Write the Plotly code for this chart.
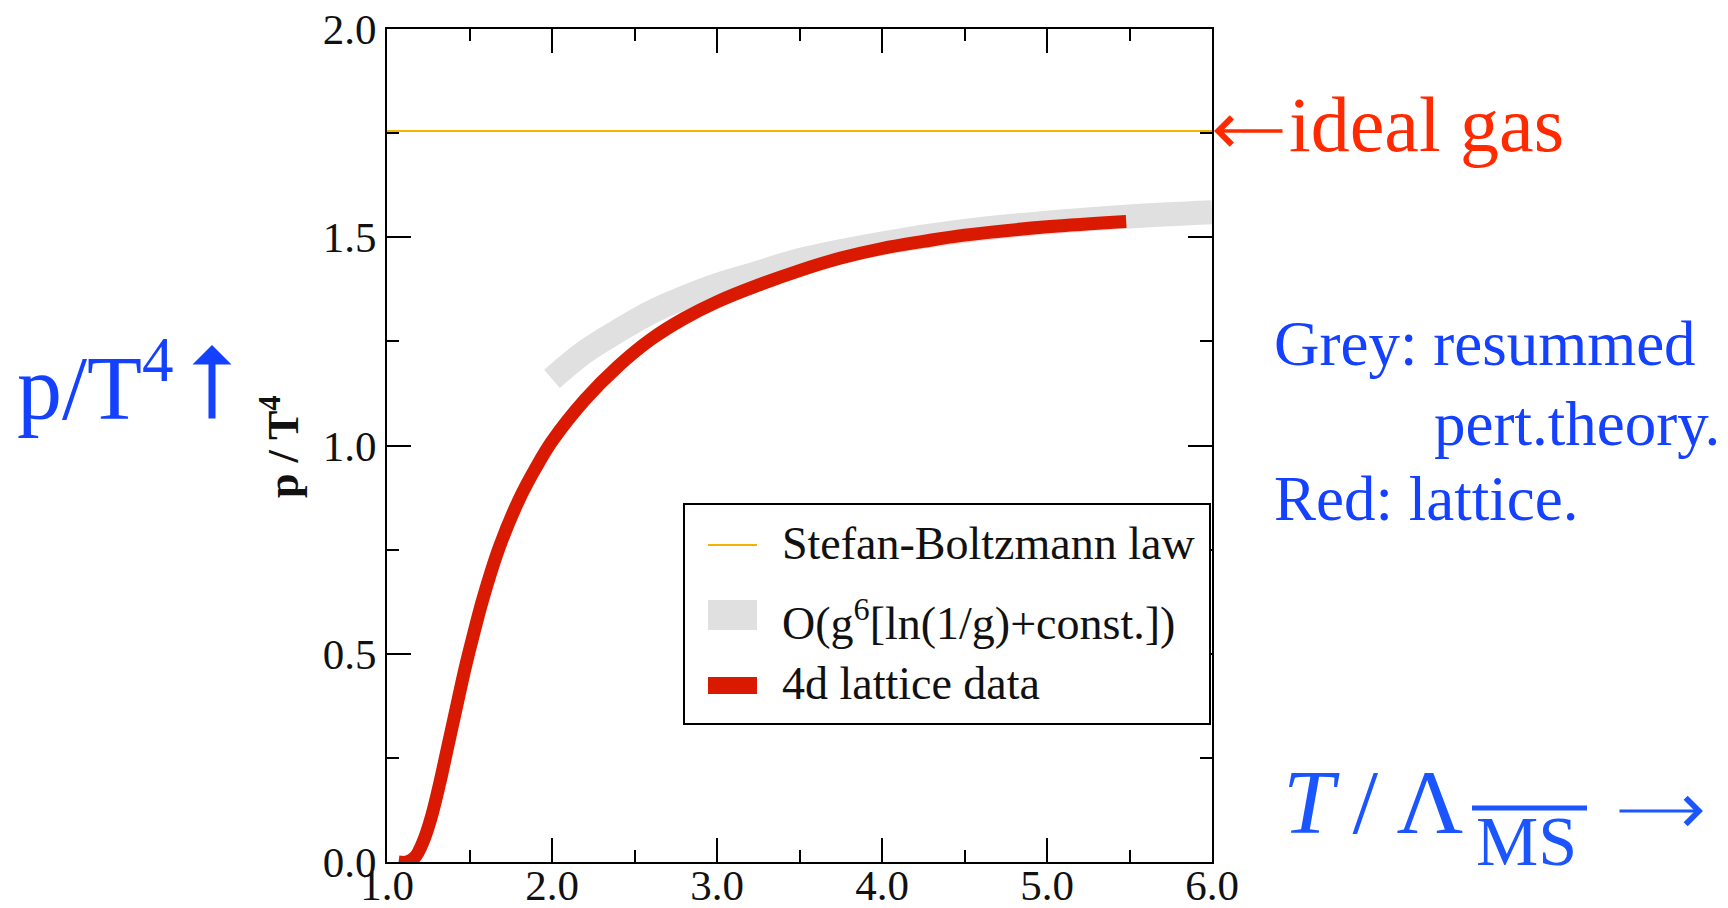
import plotly.graph_objects as go

# ---------------- data ----------------
lattice_T = [1.07, 1.12, 1.17, 1.22, 1.27, 1.32, 1.37, 1.42, 1.47, 1.52, 1.58, 1.68, 1.80, 1.90,
             2.00, 2.20, 2.40, 2.60, 2.80, 3.00, 3.25, 3.50, 3.75, 4.00, 4.25, 4.50, 5.00, 5.48]
lattice_p = [0.0, 0.0, 0.012, 0.05, 0.11, 0.19, 0.28, 0.37, 0.46, 0.54, 0.63, 0.755, 0.87, 0.945,
             1.01, 1.11, 1.19, 1.255, 1.305, 1.345, 1.385, 1.42, 1.45, 1.473, 1.49, 1.505, 1.525, 1.538]
pert_T = [2.0, 2.2, 2.4, 2.6, 2.8, 3.0, 3.25, 3.5, 4.0, 4.5, 5.0, 5.5, 6.0]
pert_p = [1.16, 1.225, 1.275, 1.32, 1.355, 1.385, 1.415, 1.445, 1.485, 1.515, 1.535, 1.55, 1.56]
sb_T = [1.0, 6.0]
sb_p = [1.755, 1.755]

x_ticks = [1.0, 2.0, 3.0, 4.0, 5.0, 6.0]
y_ticks = [0.0, 0.5, 1.0, 1.5, 2.0]

names = ["Stefan-Boltzmann law", "O(g<sup>6</sup>[ln(1/g)+const.])", "4d lattice data"]
colors = ["#f2b400", "#e0e0e0", "#d91a00"]

FONT = "Liberation Serif"
BLUE = "#1440ff"
BLUE2 = "#1a55ff"
RED_TXT = "#ff2a00"

W, H = 1728, 908
L, R, T, B = 387, 1212, 29, 862


def px(xp):
    return (xp - L) / (R - L)


def py(yp):
    return (B - yp) / (B - T)


fig = go.Figure()
fig.add_trace(go.Scatter(x=sb_T, y=sb_p, mode="lines", name=names[0],
                         line=dict(color=colors[0], width=2)))
fig.add_trace(go.Scatter(x=pert_T, y=pert_p, mode="lines", name=names[1],
                         line=dict(color=colors[1], width=24, shape="spline")))
fig.add_trace(go.Scatter(x=lattice_T, y=lattice_p, mode="lines", name=names[2],
                         line=dict(color=colors[2], width=13, shape="spline")))

axis_common = dict(showline=True, linecolor="black", linewidth=2, mirror="ticks",
                   ticks="inside", ticklen=24, tickwidth=2, tickcolor="black",
                   showgrid=False, zeroline=False, tickformat=".1f", automargin=False,
                   tickfont=dict(family=FONT, size=43, color="#111"))

fig.update_xaxes(range=[1, 6], tickvals=x_ticks, ticklabelstandoff=-16,
                 minor=dict(dtick=0.5, ticklen=12, tickwidth=2, tickcolor="black", ticks="inside"),
                 **axis_common)
fig.update_yaxes(range=[0, 2], tickvals=y_ticks,
                 minor=dict(dtick=0.25, ticklen=12, tickwidth=2, tickcolor="black", ticks="inside"),
                 **axis_common)

annotations = [
    dict(text="<b>p / T<sup>4</sup></b>", x=px(281), y=py(447), textangle=-90, xanchor="center",
         font=dict(family=FONT, size=44, color="#111")),
    dict(text="ideal gas", x=px(1287), y=py(124), xanchor="left",
         font=dict(family=FONT, size=78, color=RED_TXT)),
    dict(text="p/T<sup>4</sup>", x=px(15), y=py(381), xanchor="left",
         font=dict(family=FONT, size=90, color=BLUE)),
    dict(text="Grey: resummed", x=px(1272), y=py(344), xanchor="left",
         font=dict(family=FONT, size=63, color=BLUE)),
    dict(text="pert.theory.", x=px(1432), y=py(424), xanchor="left",
         font=dict(family=FONT, size=63, color=BLUE)),
    dict(text="Red: lattice.", x=px(1272), y=py(499), xanchor="left",
         font=dict(family=FONT, size=63, color=BLUE)),
    dict(text="<i>T</i>\u2009/\u2009Λ", x=px(1465), y=py(802), xanchor="right",
         font=dict(family=FONT, size=92, color=BLUE2)),
    dict(text="MS", x=px(1474), y=py(841), xanchor="left",
         font=dict(family=FONT, size=70, color=BLUE2)),
]
# legend texts
leg_text_y = [544, 620, 683]
for nm, yy in zip(names, leg_text_y):
    annotations.append(dict(text=nm, x=px(780), y=py(yy), xanchor="left",
                            font=dict(family=FONT, size=46, color="#111")))

for a in annotations:
    a.setdefault("showarrow", False)
    a.setdefault("yanchor", "middle")
    a["xref"] = "paper"
    a["yref"] = "paper"

# arrows
annotations.append(dict(text="", x=px(212), y=py(345), xref="paper", yref="paper",
                        showarrow=True, ax=0, ay=75, arrowhead=1, arrowwidth=7,
                        arrowsize=0.93, arrowcolor=BLUE))
annotations.append(dict(text="", x=px(1214), y=py(131), xref="paper", yref="paper",
                        showarrow=True, ax=70, ay=0, arrowhead=4, arrowwidth=3.5,
                        arrowsize=1.5, arrowcolor=RED_TXT))
annotations.append(dict(text="", x=px(1703), y=py(811), xref="paper", yref="paper",
                        showarrow=True, ax=-85, ay=0, arrowhead=4, arrowwidth=3,
                        arrowsize=1.7, arrowcolor=BLUE2))

shapes = [
    # overline on MS
    dict(type="line", xref="paper", yref="paper", x0=px(1472), x1=px(1587),
         y0=py(808), y1=py(808), line=dict(color=BLUE2, width=5)),
    # legend box
    dict(type="rect", xref="paper", yref="paper", x0=px(684), x1=px(1210),
         y0=py(724), y1=py(504), line=dict(color="black", width=2),
         fillcolor="white", layer="above"),
    # legend symbols
    dict(type="line", xref="paper", yref="paper", x0=px(708), x1=px(757),
         y0=py(545), y1=py(545), line=dict(color=colors[0], width=2), layer="above"),
    dict(type="rect", xref="paper", yref="paper", x0=px(708), x1=px(757),
         y0=py(630), y1=py(600), line=dict(width=0), fillcolor=colors[1], layer="above"),
    dict(type="rect", xref="paper", yref="paper", x0=px(708), x1=px(757),
         y0=py(694), y1=py(677), line=dict(width=0), fillcolor=colors[2], layer="above"),
]

fig.update_layout(
    width=W, height=H,
    margin=dict(l=L, r=W - R, t=T, b=H - B, pad=0, autoexpand=False),
    paper_bgcolor="white", plot_bgcolor="white",
    annotations=annotations, shapes=shapes,
    showlegend=False,
)

fig.write_html("out.html")
